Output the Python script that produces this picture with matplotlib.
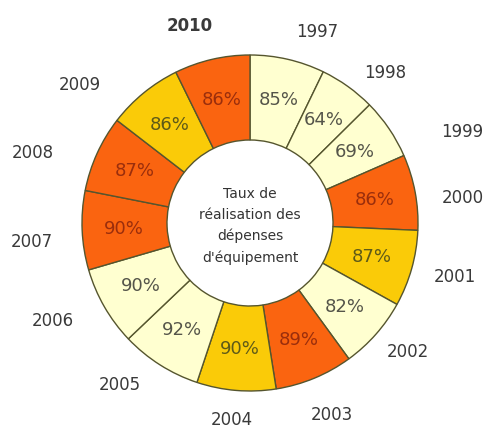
import numpy as np
import matplotlib
matplotlib.use("Agg")
import matplotlib.pyplot as plt

# Equipment spending completion rate by year
years = ["1997", "1998", "1999", "2000", "2001", "2002", "2003",
         "2004", "2005", "2006", "2007", "2008", "2009", "2010"]
rates = [85, 64, 69, 86, 87, 82, 89, 90, 92, 90, 90, 87, 86, 86]

PALE, ORANGE, YELLOW = "#FFFFD0", "#FA6410", "#FACB08"
wedge_colors = [PALE, PALE, PALE, ORANGE, YELLOW, PALE, ORANGE,
                YELLOW, PALE, PALE, ORANGE, ORANGE, YELLOW, ORANGE]
text_colors = {PALE: "#55554a", ORANGE: "#9a2e0c", YELLOW: "#5e5a18"}

# year label anchors (pixel coordinates, origin top-left)
year_pos = [(317, 32), (385, 73), (462, 132), (463, 198), (455, 277),
            (408, 352), (332, 415), (232, 420), (120, 385), (53, 321),
            (32, 242), (33, 153), (80, 85), (190, 26)]

W, H = 489, 428
fig = plt.figure(figsize=(W / 100, H / 100), dpi=100)
ax = fig.add_axes([0, 0, 1, 1])

cx, cy = 250, H - 223
r_out, r_in = 168, 83

wedges, _ = ax.pie(rates, colors=wedge_colors, startangle=90, counterclock=False,
                   center=(cx, cy), radius=r_out, frame=True,
                   wedgeprops=dict(width=r_out - r_in, edgecolor="#55552e",
                                   linewidth=1.0))
ax.set_xlim(0, W)
ax.set_ylim(0, H)
ax.set_aspect("equal")
ax.axis("off")

r_mid = (r_out + r_in) / 2 + 1
for w, val, col in zip(wedges, rates, wedge_colors):
    ang = np.deg2rad((w.theta1 + w.theta2) / 2)
    ax.text(cx + r_mid * np.cos(ang), cy + r_mid * np.sin(ang), f"{val}%",
            ha="center", va="center", fontsize=13, color=text_colors[col])

for yr, (px, py) in zip(years, year_pos):
    ax.text(px, H - py, yr, ha="center", va="center", fontsize=12,
            color="#3a3a3a", fontweight="bold" if yr == "2010" else "normal")

ax.text(cx, cy - 3, "Taux de\nréalisation des\ndépenses\nd'équipement",
        ha="center", va="center", fontsize=10, color="#333333",
        linespacing=1.6)

fig.savefig("out.png", dpi=100, facecolor="white")
